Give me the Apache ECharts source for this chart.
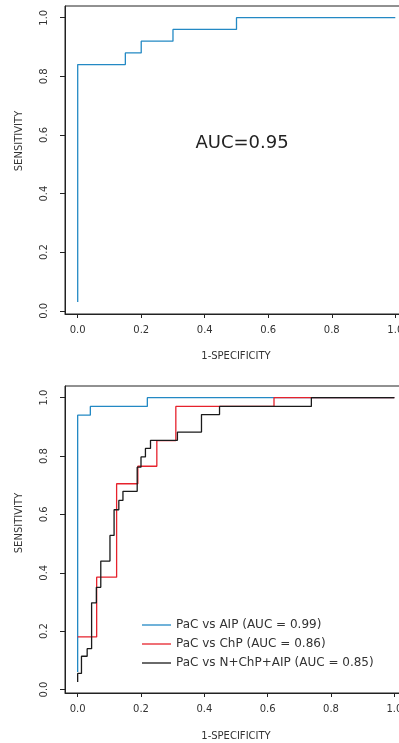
<!DOCTYPE html>
<html>
<head>
<meta charset="utf-8">
<script src="https://cdn.jsdelivr.net/npm/echarts@6/dist/echarts.min.js"></script>
<style>
  html, body { margin: 0; padding: 0; background: #fff; }
  #chart { width: 399px; height: 743px; }
</style>
</head>
<body>
<div id="chart"></div>
<script>
const axisTicks = [0, 0.2, 0.4, 0.6, 0.8, 1.0];

// top panel: single ROC curve (step corners, fpr ascending)
const singleFpr = [0, 0, 0.15, 0.2, 0.3, 0.5, 1.0];
const singleTpr = [0.03, 0.84, 0.88, 0.92, 0.96, 1.0, 1.0];
const singleAuc = 'AUC=0.95';

// bottom panel: three ROC curves
const aipFpr = [0, 0, 0.04, 0.22, 1.0];
const aipTpr = [0.06, 0.94, 0.97, 1.0, 1.0];
const chpFpr = [0, 0.06, 0.123, 0.19, 0.25, 0.31, 0.62, 1.0];
const chpTpr = [0.18, 0.385, 0.705, 0.765, 0.853, 0.97, 1.0, 1.0];
const comboFpr = [0, 0, 0.012, 0.03, 0.044, 0.059, 0.073, 0.102, 0.115, 0.13, 0.143,
  0.188, 0.2, 0.214, 0.23, 0.315, 0.391, 0.448, 0.738, 1.0];
const comboTpr = [0.026, 0.055, 0.114, 0.14, 0.297, 0.35, 0.44, 0.528, 0.616, 0.648, 0.679,
  0.762, 0.797, 0.826, 0.854, 0.882, 0.942, 0.97, 1.0, 1.0];

const seriesNames = [
  'PaC vs AIP (AUC = 0.99)',
  'PaC vs ChP (AUC = 0.86)',
  'PaC vs N+ChP+AIP (AUC = 0.85)'
];
const xTitle = '1-SPECIFICITY';
const yTitle = 'SENSITIVITY';

const blue = '#2389c4';
const red = '#e6222c';
const black = '#1a1a1a';
const frameColor = '#222';
const font = 'DejaVu Sans';

function zip(xs, ys) {
  return xs.map((x, i) => [x, ys[i]]);
}

function xAxisFor(gridIndex) {
  return {
    type: 'value',
    gridIndex: gridIndex,
    min: -0.04,
    max: 1.04,
    axisLine: { show: true, onZero: false, lineStyle: { color: frameColor, width: 1 } },
    axisTick: { show: true, length: 4, customValues: axisTicks, lineStyle: { color: frameColor } },
    axisLabel: {
      customValues: axisTicks,
      margin: 11,
      fontFamily: font,
      fontSize: 10,
      color: '#333',
      formatter: v => v.toFixed(1)
    },
    splitLine: { show: false }
  };
}

function yAxisFor(gridIndex, min) {
  return {
    type: 'value',
    gridIndex: gridIndex,
    min: min,
    max: 1.04,
    axisLine: { show: true, onZero: false, lineStyle: { color: frameColor, width: 1 } },
    axisTick: { show: true, length: 5, customValues: axisTicks, lineStyle: { color: frameColor } },
    axisLabel: {
      customValues: axisTicks,
      rotate: 90,
      margin: 16,
      fontFamily: font,
      fontSize: 10,
      color: '#333',
      formatter: v => v.toFixed(1)
    },
    splitLine: { show: false }
  };
}

function rocLine(name, xs, ys, color, idx) {
  return {
    name: name,
    type: 'line',
    xAxisIndex: idx,
    yAxisIndex: idx,
    step: 'end',
    symbol: 'none',
    silent: true,
    data: zip(xs, ys),
    lineStyle: { color: color, width: 1.3 },
    itemStyle: { color: color }
  };
}

const chart = echarts.init(document.getElementById('chart'), null, { renderer: 'canvas' });

chart.setOption({
  animation: false,
  backgroundColor: '#fff',
  grid: [
    { left: 65, top: 6, width: 343, height: 308, show: true, borderColor: frameColor, borderWidth: 1,
      containLabel: false, outerBoundsMode: 'none' },
    { left: 65, top: 386, width: 342, height: 307, show: true, borderColor: frameColor, borderWidth: 1,
      containLabel: false, outerBoundsMode: 'none' }
  ],
  xAxis: [xAxisFor(0), xAxisFor(1)],
  yAxis: [yAxisFor(0, -0.011), yAxisFor(1, -0.012)],
  legend: {
    orient: 'vertical',
    left: 137,
    top: 613,
    icon: 'rect',
    itemWidth: 29,
    itemHeight: 1.3,
    itemGap: 5,
    data: seriesNames,
    textStyle: { fontFamily: font, fontSize: 12, color: '#333', lineHeight: 14 }
  },
  graphic: [
    { type: 'text', x: 19, y: 141, rotation: Math.PI / 2,
      style: { text: yTitle, font: '10px "DejaVu Sans"', fill: '#333', textAlign: 'center', textVerticalAlign: 'middle' } },
    { type: 'text', x: 19, y: 523, rotation: Math.PI / 2,
      style: { text: yTitle, font: '10px "DejaVu Sans"', fill: '#333', textAlign: 'center', textVerticalAlign: 'middle' } },
    { type: 'text', x: 236, y: 356,
      style: { text: xTitle, font: '10px "DejaVu Sans"', fill: '#333', textAlign: 'center', textVerticalAlign: 'middle' } },
    { type: 'text', x: 236, y: 736,
      style: { text: xTitle, font: '10px "DejaVu Sans"', fill: '#333', textAlign: 'center', textVerticalAlign: 'middle' } },
    { type: 'text', x: 242, y: 143,
      style: { text: singleAuc, font: '18px "DejaVu Sans"', fill: '#222', textAlign: 'center', textVerticalAlign: 'middle' } }
  ],
  series: [
    rocLine('single', singleFpr, singleTpr, blue, 0),
    rocLine(seriesNames[0], aipFpr, aipTpr, blue, 1),
    rocLine(seriesNames[1], chpFpr, chpTpr, red, 1),
    rocLine(seriesNames[2], comboFpr, comboTpr, black, 1)
  ]
});
</script>
</body>
</html>
